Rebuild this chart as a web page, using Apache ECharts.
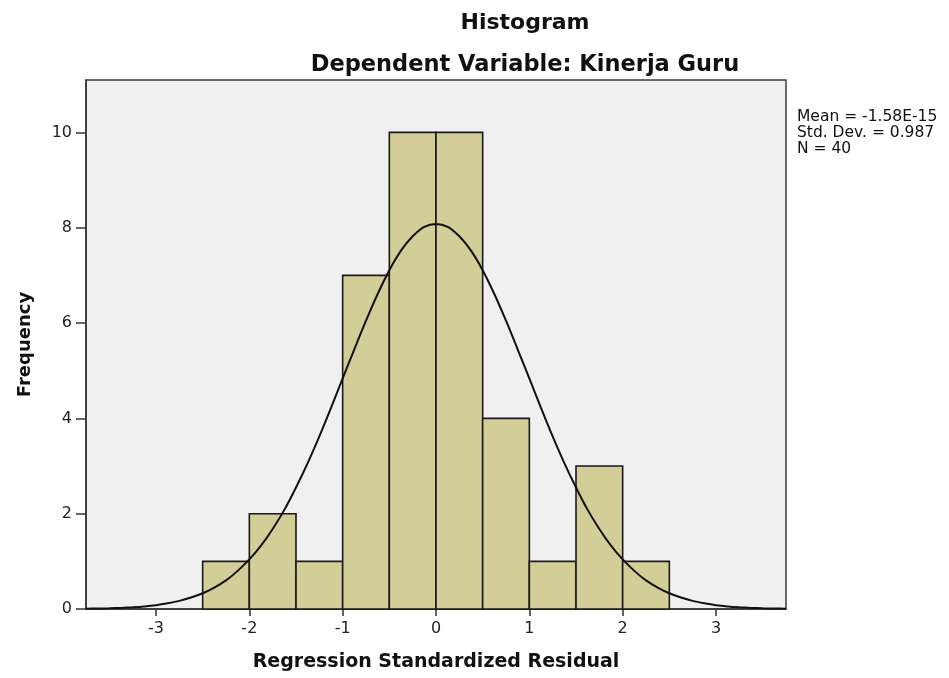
<!DOCTYPE html>
<html>
<head>
<meta charset="utf-8">
<title>Histogram</title>
<script src="https://cdn.jsdelivr.net/npm/echarts@6/dist/echarts.min.js"></script>
<style>
  html, body { margin: 0; padding: 0; background: #fff; }
  #main { width: 949px; height: 678px; }
</style>
</head>
<body>
<div id="main"></div>
<script>
// histogram bins (left edge of each bin, width 0.5)
const binStarts = [-2.5, -2.0, -1.5, -1.0, -0.5, 0.0, 0.5, 1.0, 1.5, 2.0];
const binCounts = [1, 2, 1, 7, 10, 10, 4, 1, 3, 1];
const binWidth = 0.5;

// normal curve
const curveX = [-3.75, -3.625, -3.5, -3.375, -3.25, -3.125, -3.0, -2.875, -2.75, -2.625, -2.5, -2.375,
  -2.25, -2.125, -2.0, -1.875, -1.75, -1.625, -1.5, -1.375, -1.25, -1.125, -1.0, -0.875, -0.75, -0.625,
  -0.5, -0.375, -0.25, -0.125, 0.0, 0.125, 0.25, 0.375, 0.5, 0.625, 0.75, 0.875, 1.0, 1.125, 1.25,
  1.375, 1.5, 1.625, 1.75, 1.875, 2.0, 2.125, 2.25, 2.375, 2.5, 2.625, 2.75, 2.875, 3.0, 3.125, 3.25,
  3.375, 3.5, 3.625, 3.75];
const curveY = [0.006, 0.010, 0.015, 0.023, 0.036, 0.054, 0.08, 0.12, 0.17, 0.24, 0.33, 0.45,
  0.60, 0.80, 1.04, 1.33, 1.68, 2.08, 2.55, 3.06, 3.62, 4.22, 4.84, 5.45, 6.05, 6.61,
  7.11, 7.52, 7.82, 8.02, 8.08, 8.02, 7.82, 7.52, 7.11, 6.61, 6.05, 5.45, 4.84, 4.22, 3.62,
  3.06, 2.55, 2.08, 1.68, 1.33, 1.04, 0.80, 0.60, 0.45, 0.33, 0.24, 0.17, 0.12, 0.08, 0.054, 0.036,
  0.023, 0.015, 0.010, 0.006];

const xTicks = [-3, -2, -1, 0, 1, 2, 3];
const yTicks = [0, 2, 4, 6, 8, 10];
const statLines = ["Mean = -1.58E-15", "Std. Dev. = 0.987", "N = 40"];

const font = "DejaVu Sans";
let myChart = echarts.init(document.getElementById("main"));

myChart.setOption({
  animation: false,
  backgroundColor: "#fff",
  title: [
    {
      text: "Histogram",
      left: 520, top: 7, textAlign: "center",
      textStyle: { fontFamily: font, fontWeight: "bold", fontSize: 22, color: "#111" }
    },
    {
      text: "Dependent Variable: Kinerja Guru",
      left: 520, top: 49, textAlign: "center",
      textStyle: { fontFamily: font, fontWeight: "bold", fontSize: 22.5, color: "#111" }
    }
  ],
  graphic: [
    {
      type: "text",
      left: 797, top: 109,
      style: {
        text: statLines.join("\n"),
        font: "15.5px DejaVu Sans",
        lineHeight: 16,
        fill: "#111"
      }
    }
  ],
  grid: {
    left: 86, right: 163, top: 80, bottom: 69,
    show: true,
    backgroundColor: "#f0f0f0",
    borderColor: "#3c3c3c",
    borderWidth: 1.5
  },
  xAxis: {
    type: "value",
    min: -3.75,
    max: 3.75,
    name: "Regression Standardized Residual",
    nameLocation: "middle",
    nameGap: 44,
    nameTextStyle: { fontFamily: font, fontWeight: "bold", fontSize: 19, color: "#111" },
    axisLine: { show: true, onZero: false, lineStyle: { color: "#333", width: 1.5 } },
    axisTick: { show: true, customValues: xTicks, length: 7, lineStyle: { color: "#333", width: 1.5 } },
    axisLabel: { customValues: xTicks, fontFamily: font, fontSize: 16, color: "#222", margin: 12 },
    splitLine: { show: false }
  },
  yAxis: {
    type: "value",
    min: 0,
    max: 11.1,
    name: "Frequency",
    nameLocation: "middle",
    nameGap: 52,
    nameTextStyle: { fontFamily: font, fontWeight: "bold", fontSize: 18, color: "#111" },
    axisLine: { show: true, onZero: false, lineStyle: { color: "#333", width: 1.5 } },
    axisTick: { show: true, customValues: yTicks, length: 10, lineStyle: { color: "#333", width: 1.5 } },
    axisLabel: { customValues: yTicks, fontFamily: font, fontSize: 16, color: "#222", margin: 14 },
    splitLine: { show: false }
  },
  series: [
    {
      name: "Frequency",
      type: "custom",
      data: binStarts.map((s, i) => [s, binCounts[i]]),
      renderItem: function (params, api) {
        const start = api.value(0);
        const topLeft = api.coord([start, api.value(1)]);
        const bottomRight = api.coord([start + binWidth, 0]);
        return {
          type: "rect",
          shape: {
            x: topLeft[0],
            y: topLeft[1],
            width: bottomRight[0] - topLeft[0],
            height: bottomRight[1] - topLeft[1]
          },
          style: { fill: "#d3ce97", stroke: "#1a1a1a", lineWidth: 1.6 }
        };
      },
      z: 2
    },
    {
      name: "Normal",
      type: "line",
      data: curveX.map((x, i) => [x, curveY[i]]),
      smooth: 0.3,
      showSymbol: false,
      lineStyle: { color: "#111", width: 2 },
      z: 3
    }
  ]
});
</script>
</body>
</html>
